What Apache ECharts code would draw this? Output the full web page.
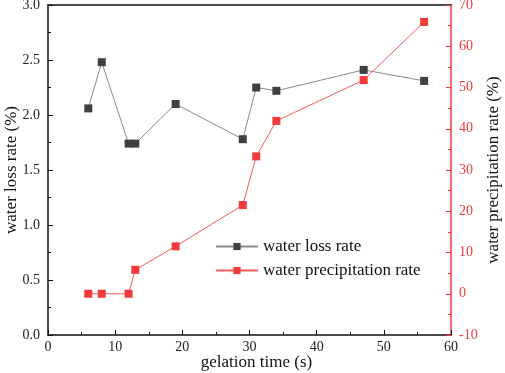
<!DOCTYPE html>
<html><head><meta charset="utf-8">
<script src="https://cdn.jsdelivr.net/npm/echarts@6/dist/echarts.min.js"></script>
<style>html,body{margin:0;padding:0;background:#fff}#c{width:505px;height:373px}</style>
</head><body><div id="c"></div>
<script>
const gelationTime = [6, 8, 12, 13, 19, 29, 31, 34, 47, 56];
const waterLossRate = [2.06, 2.48, 1.74, 1.74, 2.10, 1.78, 2.25, 2.22, 2.41, 2.31];
const waterPrecipRate = [0, 0, 0, 5.8, 11.5, 21.5, 33.3, 41.9, 51.8, 65.9];

const FONT = '"Liberation Serif", "Times New Roman", serif';
const RED = '#f23a3a';
const chart = echarts.init(document.getElementById('c'), null, {renderer: 'canvas'});
chart.setOption({
  animation: false,
  textStyle: {fontFamily: FONT},
  grid: {left: 48, right: 54, top: 5, bottom: 38, containLabel: false, outerBoundsMode: 'none'},
  legend: {
    orient: 'vertical', left: 210, top: 233, itemWidth: 42, itemHeight: 9, itemGap: 7,
    textStyle: {fontFamily: FONT, fontSize: 17, color: '#111'},
    data: ['water loss rate', 'water precipitation rate']
  },
  xAxis: [{
    type: 'value', min: 0, max: 60, interval: 10,
    name: 'gelation time (s)', nameLocation: 'middle', nameGap: 19, nameMoveOverlap: false,
    nameTextStyle: {fontFamily: FONT, fontSize: 17, color: '#111', padding: [0, 0, 0, 14]},
    axisLine: {onZero: false, lineStyle: {color: '#111', width: 1.5}},
    axisTick: {inside: true, length: 5, lineStyle: {color: '#111'}},
    minorTick: {show: true, splitNumber: 2, length: 3, lineStyle: {color: '#111'}},
    axisLabel: {fontFamily: FONT, fontSize: 14, color: '#222', margin: 5},
    splitLine: {show: false}
  }, {
    type: 'value', min: 0, max: 60, position: 'top',
    axisLine: {onZero: false, lineStyle: {color: '#111', width: 1.5}},
    axisTick: {show: false}, axisLabel: {show: false}, splitLine: {show: false}
  }],
  yAxis: [{
    type: 'value', min: 0, max: 3, interval: 0.5, position: 'left',
    name: 'water loss rate (%)', nameLocation: 'middle', nameGap: 28, nameMoveOverlap: false,
    nameTextStyle: {fontFamily: FONT, fontSize: 17, color: '#111'},
    axisLine: {show: true, onZero: false, lineStyle: {color: '#111', width: 1.5}},
    axisTick: {inside: true, length: 5, lineStyle: {color: '#111'}},
    minorTick: {show: true, splitNumber: 2, length: 3, lineStyle: {color: '#111'}},
    axisLabel: {fontFamily: FONT, fontSize: 14, color: '#222', margin: 8, formatter: v => v.toFixed(1)},
    splitLine: {show: false}
  }, {
    type: 'value', min: -10, max: 70, interval: 10, position: 'right',
    name: 'water precipitation rate (%)', nameLocation: 'middle', nameGap: 34, nameRotate: 90, nameMoveOverlap: false,
    nameTextStyle: {fontFamily: FONT, fontSize: 17, color: '#111'},
    axisLine: {show: true, onZero: false, lineStyle: {color: RED, width: 1.5}},
    axisTick: {inside: true, length: 5, lineStyle: {color: RED}},
    minorTick: {show: true, splitNumber: 2, length: 3, lineStyle: {color: RED}},
    axisLabel: {fontFamily: FONT, fontSize: 14, color: RED, margin: 8},
    splitLine: {show: false}
  }],
  series: [{
    name: 'water loss rate', type: 'line', xAxisIndex: 0, yAxisIndex: 0,
    data: gelationTime.map((x, i) => [x, waterLossRate[i]]),
    symbol: 'rect', symbolSize: 8,
    itemStyle: {color: '#404040'},
    lineStyle: {color: '#8a8a8a', width: 1}
  }, {
    name: 'water precipitation rate', type: 'line', xAxisIndex: 0, yAxisIndex: 1,
    data: gelationTime.map((x, i) => [x, waterPrecipRate[i]]),
    symbol: 'rect', symbolSize: 8,
    itemStyle: {color: RED},
    lineStyle: {color: '#f45a5a', width: 1}
  }]
});
</script></body></html>
